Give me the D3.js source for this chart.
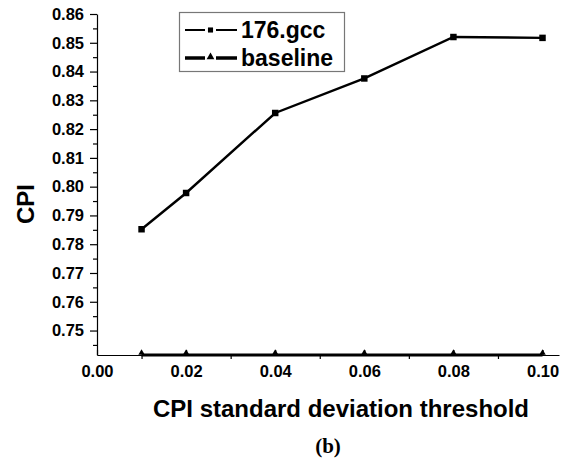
<!DOCTYPE html>
<html>
<head>
<meta charset="utf-8">
<script src="https://cdn.jsdelivr.net/npm/d3@7"></script>
<style>
  body { margin: 0; background: #fff; }
  svg text { font-family: "Liberation Sans", Arial, sans-serif; font-weight: bold; fill: #000; }
</style>
</head>
<body>
<div id="chart"></div>
<script>
// --------------------------------------
//  Data
// --------------------------------------

const thresholds = [0.01, 0.02, 0.04, 0.06, 0.08, 0.10];
const gccCPI = [0.7852, 0.7978, 0.8256, 0.8376, 0.8520, 0.8517];
const baselineCPI = [0.7415, 0.7415, 0.7415, 0.7415, 0.7415, 0.7415];

const xMajorTicks = [0, 0.02, 0.04, 0.06, 0.08, 0.10];
const xMinorTicks = [0.01, 0.03, 0.05, 0.07, 0.09];
const yMajorTicks = [0.75, 0.76, 0.77, 0.78, 0.79, 0.80, 0.81, 0.82, 0.83, 0.84, 0.85, 0.86];
const yMinorTicks = [0.745, 0.755, 0.765, 0.775, 0.785, 0.795, 0.805, 0.815, 0.825, 0.835, 0.845, 0.855];

const seriesNames = ["176.gcc", "baseline"];

// --------------------------------------
//  Canvas
// --------------------------------------

const width = 573;
const height = 463;

const svg = d3.select("#chart")
  .append("svg")
    .attr("width", width)
    .attr("height", height);

// --------------------------------------
//  Scales
// --------------------------------------

const x = d3.scaleLinear()
  .domain([0, 0.1037])
  .range([97, 559]);

const y = d3.scaleLinear()
  .domain([0.7415, 0.86])
  .range([355, 14]);

// --------------------------------------
//  Axes
// --------------------------------------

// y axis, ticks outward
svg.append("g")
  .attr("transform", `translate(${x(0)}, 0)`)
  .call(d3.axisLeft(y)
    .tickValues(yMajorTicks)
    .tickFormat(d3.format(".2f"))
    .tickSize(7)
    .tickSizeOuter(0)
    .tickPadding(6));

svg.append("g")
  .attr("transform", `translate(${x(0)}, 0)`)
  .call(d3.axisLeft(y)
    .tickValues(yMinorTicks)
    .tickFormat("")
    .tickSize(4))
  .call(g => g.select(".domain").remove());

// x axis
svg.append("g")
  .attr("transform", `translate(0, ${y(0.7415)})`)
  .call(d3.axisBottom(x)
    .tickValues(xMajorTicks)
    .tickFormat(d3.format(".2f"))
    .tickSize(-5)
    .tickSizeOuter(0)
    .tickPadding(10));

svg.append("g")
  .attr("transform", `translate(0, ${y(0.7415)})`)
  .call(d3.axisBottom(x)
    .tickValues(xMinorTicks)
    .tickFormat("")
    .tickSize(4))
  .call(g => g.select(".domain").remove());

svg.selectAll(".tick text")
  .attr("font-size", 16.5)
  .attr("font-family", "Liberation Sans, Arial, sans-serif")
  .attr("font-weight", "bold");

svg.selectAll(".domain, .tick line")
  .attr("stroke", "#000")
  .attr("stroke-width", 1.2);

// axis titles
svg.append("text")
  .attr("x", 341)
  .attr("y", 417)
  .attr("text-anchor", "middle")
  .attr("font-size", 24)
  .text("CPI standard deviation threshold");

svg.append("text")
  .attr("transform", `translate(34, 204) rotate(-90)`)
  .attr("text-anchor", "middle")
  .attr("font-size", 24)
  .text("CPI");

svg.append("text")
  .attr("x", 328)
  .attr("y", 453)
  .attr("text-anchor", "middle")
  .attr("font-size", 21)
  .style("font-family", "'Liberation Serif', 'Times New Roman', serif")
  .text("(b)");

// --------------------------------------
//  Series
// --------------------------------------

const gccData = thresholds.map((t, i) => ({x: t, y: gccCPI[i]}));
const baseData = thresholds.map((t, i) => ({x: t, y: baselineCPI[i]}));

const line = d3.line()
  .x(d => x(d.x))
  .y(d => y(d.y));

svg.append("path")
  .attr("d", line(baseData))
  .attr("fill", "none")
  .attr("stroke", "#000")
  .attr("stroke-width", 3);

svg.selectAll(".tri")
  .data(baseData)
  .join("path")
    .attr("class", "tri")
    .attr("transform", d => `translate(${x(d.x)}, ${y(d.y) - 2})`)
    .attr("d", d3.symbol(d3.symbolTriangle, 18))
    .attr("fill", "#000");

svg.append("path")
  .attr("d", line(gccData))
  .attr("fill", "none")
  .attr("stroke", "#000")
  .attr("stroke-width", 2.4);

svg.selectAll(".sq")
  .data(gccData)
  .join("path")
    .attr("class", "sq")
    .attr("transform", d => `translate(${x(d.x)}, ${y(d.y)})`)
    .attr("d", d3.symbol(d3.symbolSquare, 42))
    .attr("fill", "#000");

// --------------------------------------
//  Legend
// --------------------------------------

const legend = svg.append("g");

legend.append("rect")
  .attr("x", 179.5)
  .attr("y", 12.5)
  .attr("width", 165)
  .attr("height", 59)
  .attr("fill", "#fff")
  .attr("stroke", "#777")
  .attr("stroke-width", 1.2);

const legendRows = [
  {name: seriesNames[0], yy: 30, sw: 2, symbol: d3.symbolSquare, size: 26, dy: 0},
  {name: seriesNames[1], yy: 58, sw: 3.5, symbol: d3.symbolTriangle, size: 26, dy: -1}
];

legendRows.forEach(r => {
  legend.append("line")
    .attr("x1", 185).attr("x2", 205)
    .attr("y1", r.yy).attr("y2", r.yy)
    .attr("stroke", "#000").attr("stroke-width", r.sw);
  legend.append("line")
    .attr("x1", 216).attr("x2", 237)
    .attr("y1", r.yy).attr("y2", r.yy)
    .attr("stroke", "#000").attr("stroke-width", r.sw);
  legend.append("path")
    .attr("transform", `translate(210.5, ${r.yy + r.dy})`)
    .attr("d", d3.symbol(r.symbol, r.size))
    .attr("fill", "#000");
  legend.append("text")
    .attr("x", 241)
    .attr("y", r.yy + 8)
    .attr("font-size", 23)
    .text(r.name);
});
</script>
</body>
</html>
